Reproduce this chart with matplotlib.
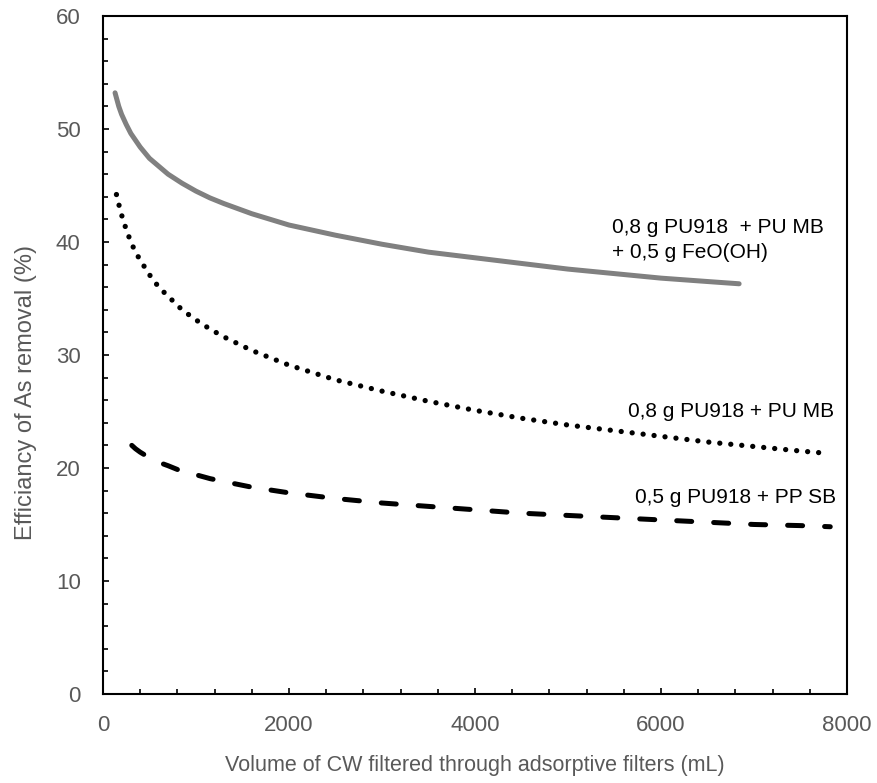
import matplotlib
matplotlib.use('Agg')
import matplotlib.pyplot as plt

plt.rcParams['font.family'] = ['Liberation Sans', 'DejaVu Sans']

# 0,8 g PU918 + PU MB + 0,5 g FeO(OH)  (solid gray)
vol_feo = [130, 150, 170, 200, 250, 300, 350, 400, 500, 600, 700, 850, 1000, 1150,
           1300, 1600, 2000, 2500, 3000, 3500, 4000, 4500, 5000, 5500, 6000, 6500, 6840]
eff_feo = [53.2, 52.6, 52.0, 51.3, 50.4, 49.6, 49.0, 48.4, 47.4, 46.7, 46.0, 45.2, 44.5, 43.9,
           43.4, 42.5, 41.5, 40.6, 39.8, 39.1, 38.6, 38.1, 37.6, 37.2, 36.8, 36.5, 36.3]

# 0,8 g PU918 + PU MB  (dotted)
vol_mb = [145, 160, 180, 200, 250, 300, 350, 400, 500, 600, 700, 850, 1000, 1150,
          1300, 1600, 2000, 2500, 3000, 3500, 4000, 4500, 5000, 5500, 6000, 6500,
          7000, 7500, 7780]
eff_mb = [44.2, 43.7, 43.0, 42.4, 41.1, 40.0, 39.1, 38.4, 37.1, 36.0, 35.2, 34.0, 33.1, 32.3,
          31.6, 30.4, 29.1, 27.8, 26.8, 25.9, 25.1, 24.4, 23.8, 23.3, 22.8, 22.3,
          21.9, 21.5, 21.3]

# 0,5 g PU918 + PP SB  (dashed)
vol_sb = [310, 350, 400, 450, 500, 600, 700, 850, 1000, 1150, 1300, 1600, 2000, 2500,
          3000, 3500, 4000, 4500, 5000, 5500, 6000, 6500, 7000, 7500, 7820]
eff_sb = [22.0, 21.7, 21.4, 21.15, 20.9, 20.5, 20.2, 19.7, 19.4, 19.06, 18.8, 18.3, 17.8, 17.3,
          16.9, 16.6, 16.3, 16.0, 15.8, 15.6, 15.4, 15.2, 15.0, 14.9, 14.8]

grey = '#595959'

fig = plt.figure(figsize=(8.77, 7.83), dpi=100)
ax = fig.add_axes([0.1174, 0.1137, 0.8484, 0.8659])

ax.plot(vol_feo, eff_feo, color='#808080', lw=3.6, solid_capstyle='round')
ax.plot(vol_mb, eff_mb, color='black', lw=3.8, linestyle=(0, (0.01, 2.08)),
        dash_capstyle='round')
ax.plot(vol_sb, eff_sb, color='black', lw=3.6, linestyle=(0, (3.0, 4.4)),
        dash_capstyle='round')

ax.text(5470, 41.3, '0,8 g PU918  + PU MB', fontsize=15, va='center', ha='left')
ax.text(5470, 39.1, '+ 0,5 g FeO(OH)', fontsize=15, va='center', ha='left')
ax.text(7860, 25.0, '0,8 g PU918 + PU MB', fontsize=15, va='center', ha='right')
ax.text(7880, 17.4, '0,5 g PU918 + PP SB', fontsize=15, va='center', ha='right')

ax.set_xlim(0, 8000)
ax.set_ylim(0, 60)
ax.set_xticks(range(0, 8001, 2000))
ax.set_xticks(range(0, 8001, 400), minor=True)
ax.set_yticks(range(0, 61, 10))
ax.set_yticks(range(0, 61, 2), minor=True)

ax.tick_params(which='both', direction='in', width=1.2, colors='black',
               labelcolor=grey, labelsize=16)
ax.tick_params(which='major', length=4.5)
ax.tick_params(which='minor', length=3.5)
ax.tick_params(axis='x', which='major', pad=15)
ax.tick_params(axis='y', which='major', pad=16)

for s in ax.spines.values():
    s.set_linewidth(1.5)

ax.set_xlabel('Volume of CW filtered through adsorptive filters (mL)',
              fontsize=15.5, color=grey)
ax.set_ylabel('Efficiancy of As removal (%)', fontsize=17, color=grey)
ax.xaxis.set_label_coords(0.5, -0.0907)
ax.yaxis.set_label_coords(-0.0887, 0.444)

fig.savefig('out.png', dpi=100)
